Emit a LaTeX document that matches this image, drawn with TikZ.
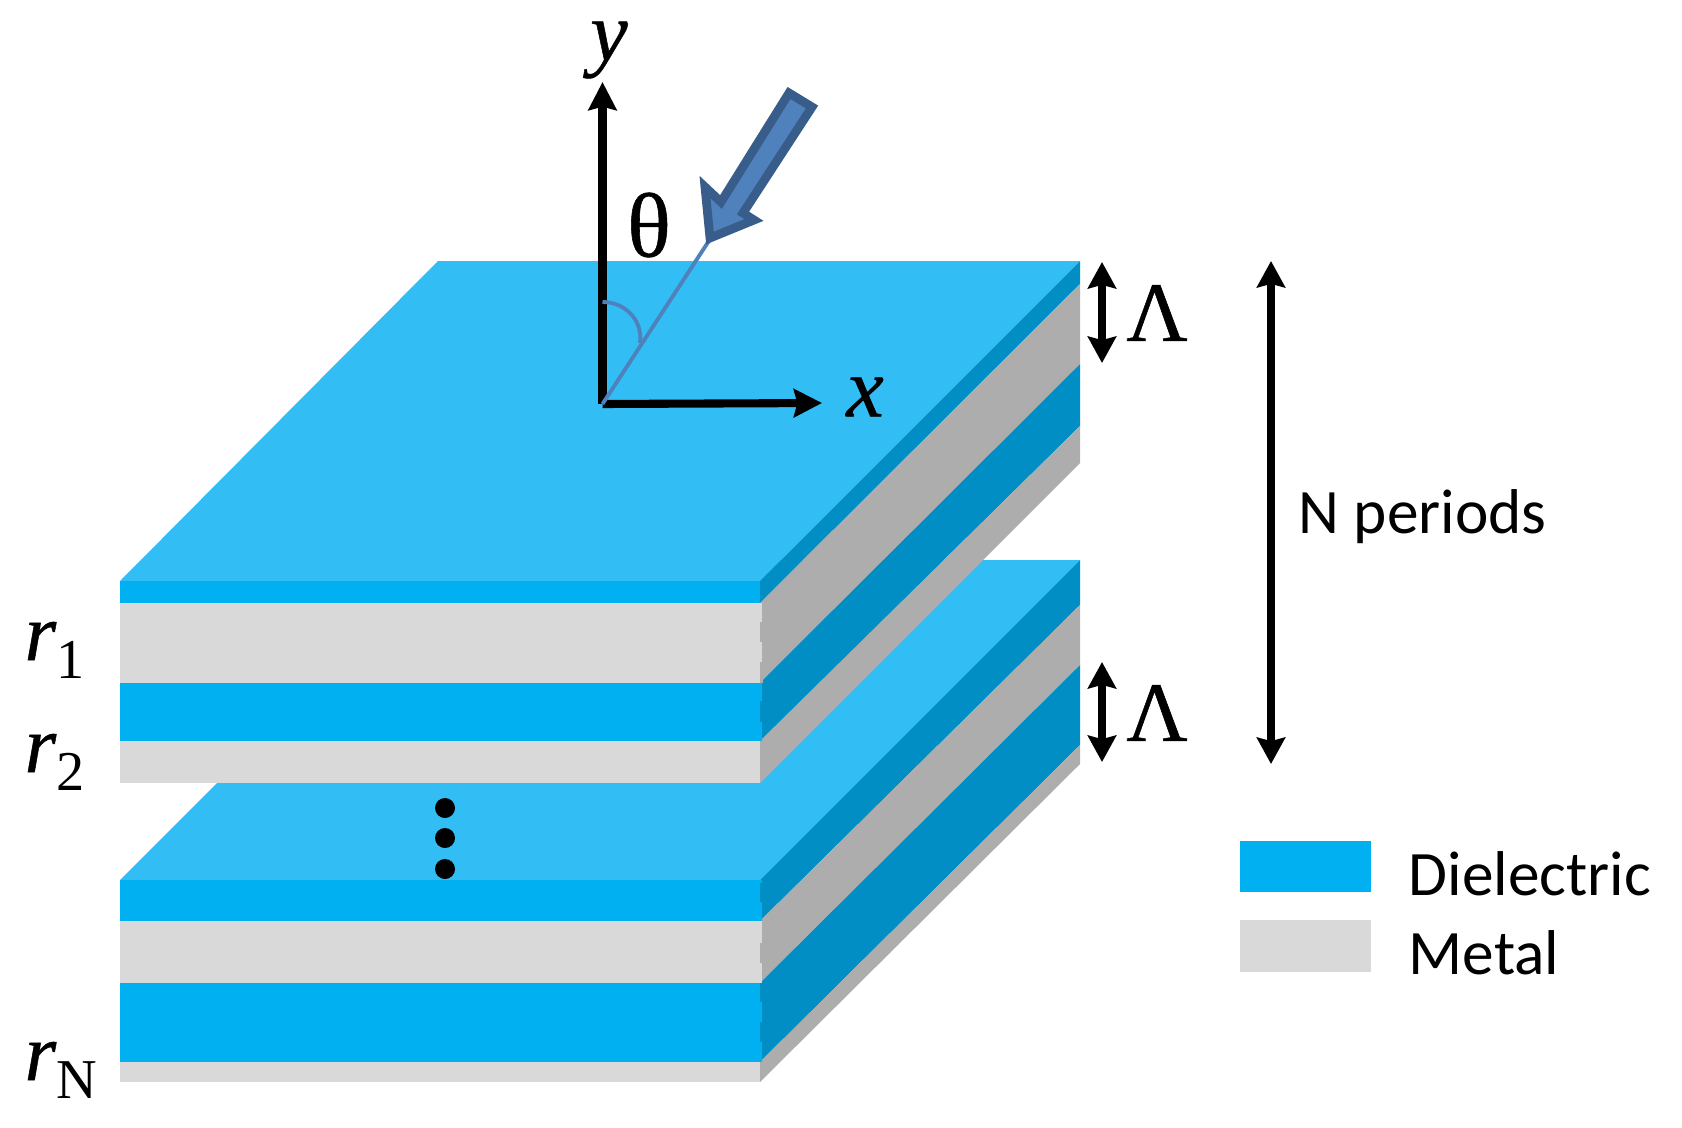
\documentclass[tikz,border=0pt]{standalone}
\usepackage{fontspec}
\usepackage{tikz}
\usetikzlibrary{arrows.meta}
\setmainfont{Liberation Serif}
\newfontfamily\labelfont{Carlito}
\definecolor{dieltop}{HTML}{32BEF5}
\definecolor{dielfront}{HTML}{00B0F0}
\definecolor{dielside}{HTML}{008EC4}
\definecolor{metalfront}{HTML}{D9D9D9}
\definecolor{metalside}{HTML}{ADADAD}
\definecolor{beamfill}{HTML}{4F81BD}
\definecolor{beamline}{HTML}{385D8A}
\newcommand{\symb}[1]{{\fontsize{24}{24}\selectfont\addfontfeature{FakeBold=0.6}#1}}
\newcommand{\rlabel}[1]{{\fontsize{23}{23}\selectfont\itshape\addfontfeature{FakeBold=0.6}r}\raisebox{-5.2pt}{\fontsize{16}{16}\selectfont #1}}
\tikzset{
  axis/.style={line width=2.3pt, -{Stealth[length=8pt, width=8pt, inset=1pt]}},
  period/.style={line width=2.3pt, {Stealth[length=7.5pt, width=8pt, inset=1pt]}-{Stealth[length=7.5pt, width=8pt, inset=1pt]}},
  beam/.style={beamfill, line width=1.1pt},
  word/.style={font=\labelfont\fontsize{18}{18}\selectfont, inner sep=0pt, anchor=base west},
  sign/.style={inner sep=0pt},
  ellipsisdot/.style={circle, fill=black, inner sep=0pt, minimum size=20*0.01cm}
}
\begin{document}
\begin{tikzpicture}[x=0.01cm, y=-0.01cm]
\useasboundingbox (0,0) rectangle (1682,1127);
% lower stack
\fill[dieltop] (120,880) -- (440,560) -- (1080,560) -- (760,880) -- cycle;
\fill[dielside] (760,880) -- (1080,560) -- (1080,605) -- (760,921) -- cycle;
\fill[metalside] (760,921) -- (1080,605) -- (1080,665) -- (760,983) -- cycle;
\fill[dielside] (760,983) -- (1080,665) -- (1080,745) -- (760,1062) -- cycle;
\fill[metalside] (760,1062) -- (1080,745) -- (1080,764) -- (760,1082) -- cycle;
\fill[dielfront] (120,880) rectangle (762,921);
\fill[metalfront] (120,921) rectangle (762,983);
\fill[dielfront] (120,983) rectangle (762,1062);
\fill[metalfront] (120,1062) rectangle (760,1082);
% upper stack
\fill[dieltop] (120,581) -- (438,261) -- (1080,261) -- (760,581) -- cycle;
\fill[dielside] (760,581) -- (1080,261) -- (1080,284) -- (760,603) -- cycle;
\fill[metalside] (760,603) -- (1080,284) -- (1080,364) -- (760,683) -- cycle;
\fill[dielside] (760,683) -- (1080,364) -- (1080,426) -- (760,741) -- cycle;
\fill[metalside] (760,741) -- (1080,426) -- (1080,463) -- (760,783) -- cycle;
\fill[dielfront] (120,581) rectangle (760,603);
\fill[metalfront] (120,603) rectangle (762,683);
\fill[dielfront] (120,683) rectangle (762,741);
\fill[metalfront] (120,741) rectangle (760,783);
% teeth along the front edge
\foreach \ya/\yb in {622/642, 662/683, 943/963}
  \fill[metalside] (759.5,\ya) rectangle (762.5,\yb);
\foreach \ya/\yb in {701/722, 883/902, 983/1002, 1022/1042}
  \fill[dielside] (759.5,\ya) rectangle (762.5,\yb);
% axes and incident beam
\coordinate (O) at (602.5,404);
\coordinate (Y) at (602.5,82);
\coordinate (X) at (822,403);
\coordinate (tip) at (716,230);
\coordinate (archigh) at (602.5,302);
\coordinate (arclow) at (640,343);
\draw[axis] (O) -- (Y);
\draw[axis] (O) -- (X);
\draw[beam] (O) -- (tip);
\draw[beam] (archigh) .. controls (625,302) and (643,320) .. (arclow);
\draw[beamline, fill=beamfill, line width=2.5pt, miter limit=10]
  (789,93) -- (812,107) -- (743,213) -- (754,220) -- (710,238) -- (705,187) -- (721,202) -- cycle;
\node[sign] (ylabel) at (609,50) {\symb{\itshape y}};
\node[sign] (xlabel) at (865,397) {\symb{\itshape x}};
\node[sign] (theta) at (649,225) {\fontsize{26}{26}\selectfont\addfontfeature{FakeBold=0.6}θ};
% periods
\coordinate (topa) at (1102,262);
\coordinate (bota) at (1102,363);
\coordinate (topb) at (1102,662);
\coordinate (botb) at (1102,762);
\coordinate (topn) at (1271,261);
\coordinate (botn) at (1271,764);
\draw[period] (topa) -- (bota);
\draw[period] (topb) -- (botb);
\draw[period] (topn) -- (botn);
\node[sign] (la) at (1157,313) {\symb{Λ}};
\node[sign] (lb) at (1157,713) {\symb{Λ}};
\node[word] (N) at (1298,533) {N periods};
% layer labels
\node[sign, anchor=base west] (r1) at (24,660) {\rlabel{1}};
\node[sign, anchor=base west] (r2) at (24,772) {\rlabel{2}};
\node[sign, anchor=base west] (rN) at (24,1080) {\rlabel{N}};
\node[ellipsisdot] (d1) at (445,808) {};
\node[ellipsisdot] (d2) at (445,838) {};
\node[ellipsisdot] (d3) at (445,869) {};
% legend
\fill[dielfront] (1240,841) rectangle (1371,892);
\fill[metalfront] (1240,920) rectangle (1371,972);
\node[word] (D) at (1408,895) {Dielectric};
\node[word] (M) at (1408,974) {Metal};
\end{tikzpicture}
\end{document}
